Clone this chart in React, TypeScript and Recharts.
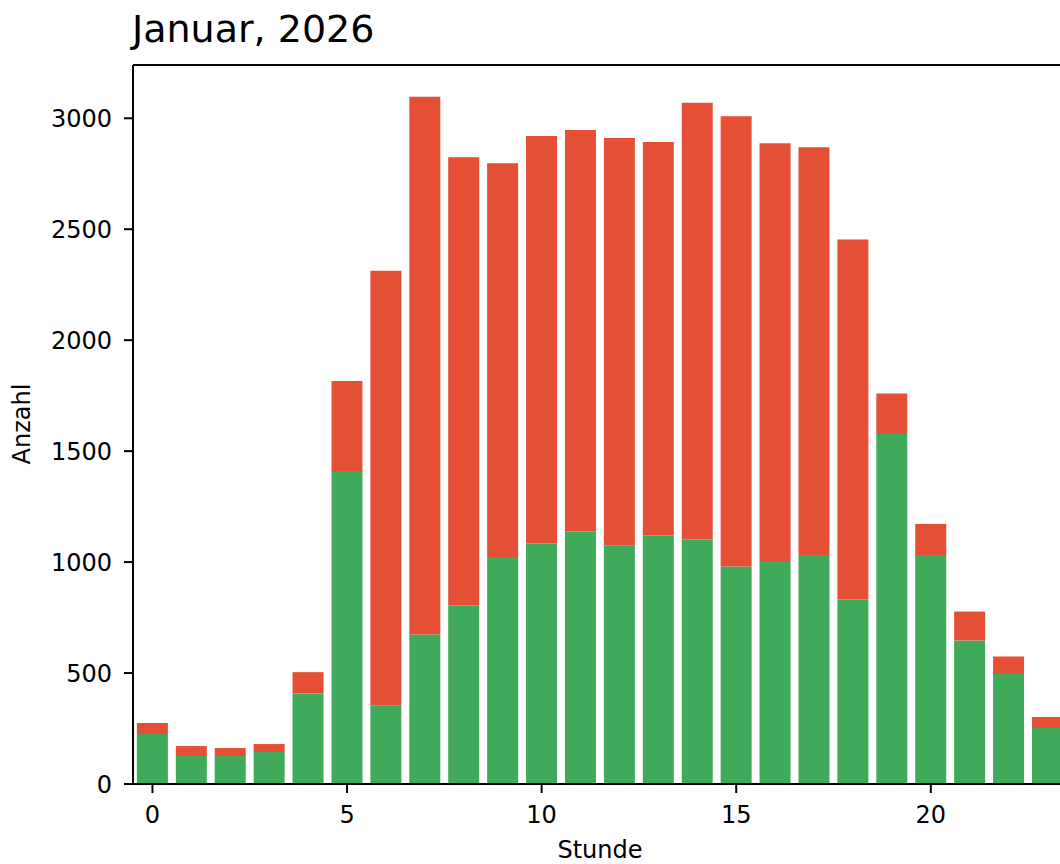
import { BarChart, Bar, XAxis, YAxis, ReferenceLine } from 'recharts';

const hours = [0, 1, 2, 3, 4, 5, 6, 7, 8, 9, 10, 11, 12, 13, 14, 15, 16, 17, 18, 19, 20, 21, 22, 23];
const greenCounts = [225, 126, 126, 144, 408, 1410, 355, 674, 804, 1023, 1084, 1138, 1076, 1120, 1102, 980, 1005, 1032, 831, 1577, 1032, 647, 496, 252];
const redCounts = [50, 45, 36, 36, 96, 406, 1958, 2423, 2020, 1774, 1836, 1809, 1835, 1773, 1968, 2029, 1882, 1837, 1623, 183, 140, 130, 78, 50];
const yTicks = [0, 500, 1000, 1500, 2000, 2500, 3000];
const Y_MAX = 3240;

const data = hours.map((h, i) => ({ hour: h, green: greenCounts[i], red: redCounts[i] }));

const FONT = '"DejaVu Sans", sans-serif';
const tickStyle = { fill: '#000', fontSize: 24, fontFamily: FONT };

export default function App() {
  return (
    <div style={{ position: 'absolute', left: 0, top: 0, width: 1060, height: 864, overflow: 'hidden', background: '#fff' }}>
      <div
        style={{
          position: 'absolute',
          left: 132,
          top: 10,
          fontFamily: FONT,
          fontSize: 38,
          lineHeight: '38px',
          color: '#000',
          whiteSpace: 'nowrap',
        }}
      >
        Januar, 2026
      </div>
      <div
        style={{
          position: 'absolute',
          left: 22,
          top: 424,
          transform: 'translate(-50%, -50%) rotate(-90deg)',
          fontFamily: FONT,
          fontSize: 24,
          lineHeight: '24px',
          color: '#000',
          whiteSpace: 'nowrap',
        }}
      >
        Anzahl
      </div>
      <BarChart
        width={1077}
        height={864}
        data={data}
        margin={{ top: 65, right: 10, left: 0, bottom: 0 }}
        barCategoryGap="10%"
        style={{ position: 'absolute', left: 0, top: 0 }}
      >
        <XAxis
          dataKey="hour"
          interval={4}
          height={80}
          tickSize={9}
          tickMargin={13}
          tick={tickStyle}
          axisLine={{ stroke: '#000', strokeWidth: 2 }}
          tickLine={{ stroke: '#000', strokeWidth: 2 }}
          label={{ value: 'Stunde', position: 'insideBottom', offset: 6, fill: '#000', fontSize: 24, fontFamily: FONT }}
        />
        <YAxis
          width={133}
          type="number"
          domain={[0, Y_MAX]}
          ticks={yTicks}
          tickSize={9}
          tickMargin={12}
          tick={tickStyle}
          axisLine={{ stroke: '#000', strokeWidth: 2 }}
          tickLine={{ stroke: '#000', strokeWidth: 2 }}
        />
        <Bar dataKey="green" stackId="a" fill="#3eaa5a" isAnimationActive={false} />
        <Bar dataKey="red" stackId="a" fill="#e44f35" isAnimationActive={false} />
        <ReferenceLine y={Y_MAX} stroke="#000" strokeWidth={2} />
      </BarChart>
    </div>
  );
}
